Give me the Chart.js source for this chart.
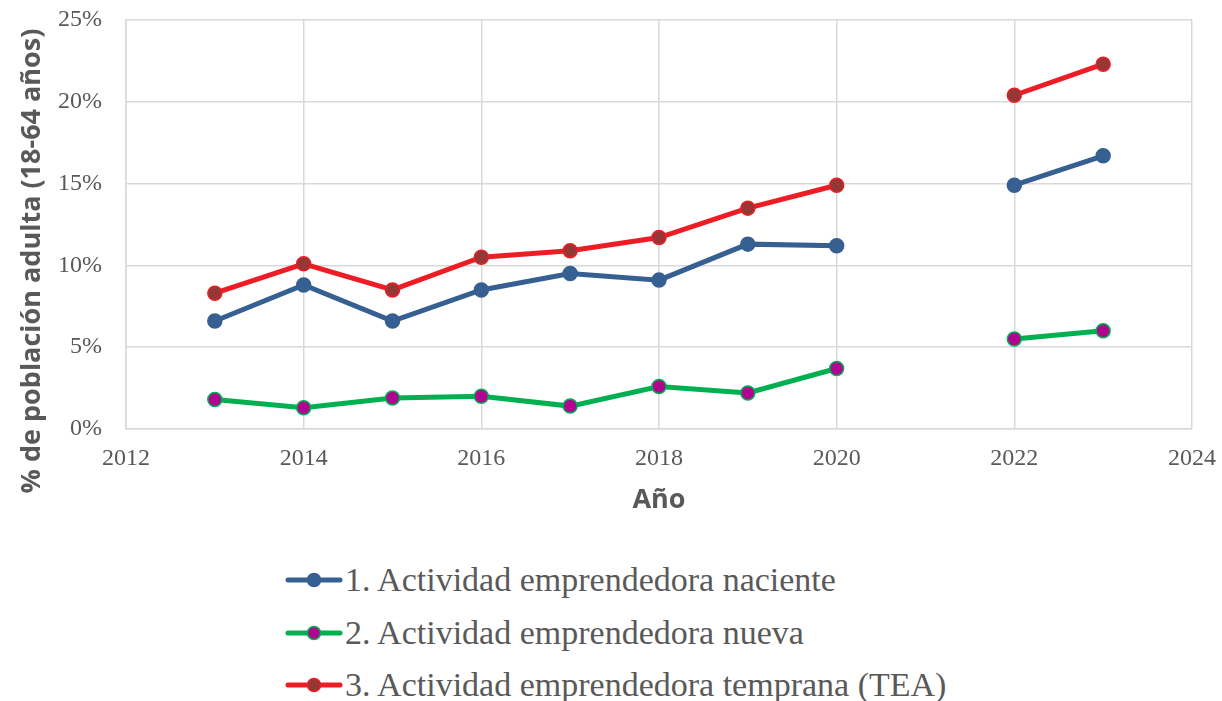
<!DOCTYPE html>
<html><head><meta charset="utf-8">
<script src="https://cdn.jsdelivr.net/npm/chart.js@4"></script>
<style>
html,body{margin:0;padding:0;background:#fff;}
#wrap{position:relative;width:1222px;height:701px;overflow:hidden;}
#c{position:absolute;left:0;top:0;}
#legend{position:absolute;left:285px;top:554px;font-family:"Liberation Serif",serif;font-size:34px;color:#595959;}
.li{height:52.5px;display:flex;align-items:center;white-space:nowrap;}
.li svg{margin-right:2px;}
</style></head>
<body><div id="wrap"><canvas id="c" width="1222" height="531"></canvas><div id="legend"></div></div>
<script>
const years = [2013, 2014, 2015, 2016, 2017, 2018, 2019, 2020, 2021, 2022, 2023];
const naciente = [6.6, 8.8, 6.6, 8.5, 9.5, 9.1, 11.3, 11.2, null, 14.9, 16.7];
const nueva = [1.8, 1.3, 1.9, 2.0, 1.4, 2.6, 2.2, 3.7, null, 5.5, 6.0];
const temprana = [8.3, 10.1, 8.5, 10.5, 10.9, 11.7, 13.5, 14.9, null, 20.4, 22.3];
const seriesNames = ["1. Actividad emprendedora naciente", "2. Actividad emprendedora nueva", "3. Actividad emprendedora temprana (TEA)"];
const xTicks = [2012, 2014, 2016, 2018, 2020, 2022, 2024];
const yTicks = [0, 5, 10, 15, 20, 25];
const xTitle = "Año";
const yTitle = "% de población adulta (18-64 años)";

const styles = [
  {line:"#365f92", fill:"#365f92", border:"#365f92"},
  {line:"#00b050", fill:"#b0058f", border:"#00b050"},
  {line:"#ee1d25", fill:"#953735", border:"#ee1d25"}
];
const toPts = arr => years.map((y,i)=>({x:y, y:arr[i]}));
const datasets = [naciente, nueva, temprana].map((arr,i)=>({
  label: seriesNames[i],
  data: toPts(arr),
  borderColor: styles[i].line,
  backgroundColor: styles[i].fill,
  pointBackgroundColor: styles[i].fill,
  pointBorderColor: styles[i].border,
  pointBorderWidth: 1.5,
  pointRadius: 7,
  borderWidth: 5,
  spanGaps: false,
  tension: 0
}));
const serif = "Liberation Serif";
const sans = "Open Sans";
const yTitlePlugin = {
  id:'yTitleFree',
  afterDraw(chart){
    const ctx = chart.ctx;
    ctx.save();
    ctx.translate(32, 261);
    ctx.rotate(-Math.PI/2);
    ctx.font = "bold 27px 'Open Sans'";
    ctx.fillStyle = '#595959';
    ctx.textAlign = 'center';
    ctx.textBaseline = 'middle';
    ctx.fillText(yTitle, 0, 0);
    ctx.restore();
  }
};
new Chart(document.getElementById('c'), {
  type: 'line',
  data: { datasets },
  plugins:[yTitlePlugin],
  options: {
    responsive:false, animation:false,
    layout:{padding:{left:16,right:0,top:0,bottom:14}},
    plugins:{legend:{display:false}, tooltip:{enabled:false}},
    scales:{
      x:{type:'linear', min:xTicks[0], max:xTicks[xTicks.length-1],
        afterBuildTicks: s => { s.ticks = xTicks.map(v=>({value:v})); },
        afterFit: s => { s.height = 88; s.paddingRight = 30; s.paddingLeft = 0; },
        grid:{color:'#d9d9d9', lineWidth:1.5, drawTicks:false},
        border:{color:'#d9d9d9', width:1.5},
        ticks:{color:'#595959', font:{family:serif, size:24}, padding:15, callback:v=>String(v)},
        title:{display:true, text:xTitle, color:'#595959', font:{family:sans, size:27, weight:'bold'}, padding:{top:12, bottom:0}}
      },
      y:{min:yTicks[0], max:yTicks[yTicks.length-1],
        afterBuildTicks: s => { s.ticks = yTicks.map(v=>({value:v})); },
        afterFit: s => { s.width = 110; s.paddingTop = 20; s.paddingBottom = 0; },
        grid:{color:'#d9d9d9', lineWidth:1.5, drawTicks:false},
        border:{color:'#d9d9d9', width:1.5},
        ticks:{color:'#595959', font:{family:serif, size:24}, padding:24, callback:v=>v+'%'},
        title:{display:false}
      }
    }
  }
});
const lg = document.getElementById('legend');
seriesNames.forEach((n,i)=>{
  const d = document.createElement('div'); d.className='li';
  d.innerHTML = `<svg width="58" height="20"><line x1="3" y1="10" x2="55" y2="10" stroke="${styles[i].line}" stroke-width="5" stroke-linecap="round"/><circle cx="29" cy="10" r="6.5" fill="${styles[i].fill}" stroke="${styles[i].border}" stroke-width="1.5"/></svg><span>${n}</span>`;
  lg.appendChild(d);
});
</script></body></html>
